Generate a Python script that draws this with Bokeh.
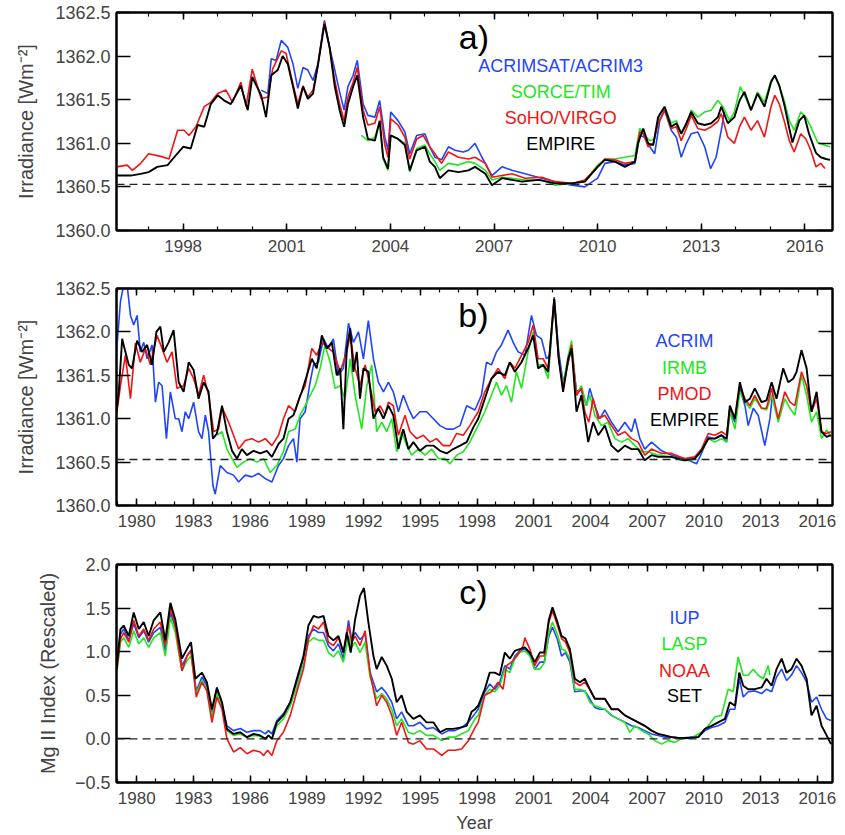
from bokeh.plotting import figure
from bokeh.models import Range1d, FixedTicker, LinearAxis, Span, Label, PrintfTickFormatter, CustomJSTickFormatter
from bokeh.layouts import column
from bokeh.embed import file_html
from bokeh.resources import INLINE

# ---------------- tick labels ----------------
xa_major = [1998, 2001, 2004, 2007, 2010, 2013, 2016]
xa_minor = list(range(1996, 2018))
xbc_major = [1980, 1983, 1986, 1989, 1992, 1995, 1998, 2001, 2004, 2007, 2010, 2013, 2016]
xbc_minor = list(range(1979, 2018))
yab_major = [1360.0, 1360.5, 1361.0, 1361.5, 1362.0, 1362.5]
yc_major = [-0.5, 0.0, 0.5, 1.0, 1.5, 2.0]
tsi_ref = 1360.53
mg_ref = 0.0

# ---------------- panel a ----------------
a_acrim_t = [2000.26,2000.45,2000.55,2000.69,2000.84,2001.03,2001.18,2001.32,2001.47,2001.61,2001.76,2001.90,2002.09,2002.24,2002.39,2002.53,2002.66,2002.77,2002.92,2003.04,2003.21,2003.35,2003.55,2003.69,2003.84,2003.93,2004.01,2004.22,2004.42,2004.56,2004.76,2005.0,2005.14,2005.29,2005.48,2005.68,2005.87,2006.11,2006.26,2006.45,
             2006.65,2006.94,2007.23,2007.52,2007.90,2008.38,2008.77,2009.25,2009.63,2010.0,2010.21,2010.5,2010.79,2011.08,2011.22,2011.37,2011.51,2011.65,2011.80,2011.94,2012.13,2012.28,2012.42,2012.57,2012.71,2012.90,2013.10,2013.27,2013.43,2013.58,2013.67]
a_acrim_v = [1361.61,1361.57,1361.97,1361.95,1362.18,1362.10,1361.91,1361.63,1361.87,1361.84,1361.72,1361.91,1362.41,1362.10,1361.84,1361.59,1361.38,1361.65,1361.78,1361.95,1361.45,1361.32,1361.30,1361.49,1361.07,1360.92,1361.36,1361.26,1361.13,1360.88,1361.09,1361.11,1360.96,1360.84,1360.81,1360.96,1360.92,1360.90,1360.92,1361.0,
             1360.84,1360.63,1360.73,1360.69,1360.65,1360.60,1360.56,1360.52,1360.50,1360.60,1360.77,1360.79,1360.75,1360.77,1361.09,1361.07,1360.96,1360.88,1361.26,1361.38,1361.15,1361.07,1360.84,1361.0,1361.11,1361.13,1360.96,1360.71,1360.84,1361.15,1361.36]

a_sorce_t = [2003.16,2003.35,2003.55,2003.69,2003.79,2003.93,2004.01,2004.22,2004.42,2004.56,2004.76,2005.0,2005.14,2005.29,2005.43,2005.68,2005.97,2006.26,2006.45,
             2006.75,2006.94,2007.23,2007.52,2007.90,2008.38,2008.77,2009.25,2009.63,2010.0,2010.21,2010.5,2010.79,2011.08,2011.22,2011.37,2011.51,2011.65,2011.80,2011.94,2012.13,2012.28,2012.42,2012.57,2012.71,2012.90,2013.10,2013.29,2013.48,2013.63,2013.82,2013.96,2014.13,2014.30,2014.44,2014.63,2014.83,2015.02,2015.13,2015.26,2015.40,2015.55,2015.69,2015.88,2016.03,2016.17,2016.37,2016.56,2016.73]
a_sorce_v = [1361.09,1361.03,1361.07,1361.24,1360.82,1360.69,1361.09,1361.05,1361.0,1360.67,1360.94,1360.98,1360.88,1360.79,1360.69,1360.77,1360.75,1360.79,1360.77,
             1360.69,1360.58,1360.61,1360.60,1360.58,1360.58,1360.52,1360.54,1360.56,1360.75,1360.82,1360.82,1360.84,1360.86,1361.17,1361.09,1361.03,1361.05,1361.34,1361.42,1361.23,1361.26,1361.11,1361.21,1361.38,1361.30,1361.36,1361.38,1361.49,1361.42,1361.26,1361.36,1361.65,1361.51,1361.38,1361.59,1361.47,1361.72,1361.78,1361.66,1361.49,1361.26,1361.15,1361.36,1361.30,1361.19,1361.01,1360.98,1360.96]

a_virgo_t = [1996.07,1996.38,1996.53,1996.77,1997.0,1997.35,1997.59,1997.84,1998.03,1998.17,1998.37,1998.61,1998.80,1999.0,1999.24,1999.43,1999.67,1999.82,2000.0,2000.26,2000.45,2000.59,2000.84,2000.98,2001.13,2001.32,2001.47,2001.61,2001.76,2001.90,2002.09,2002.24,2002.39,2002.53,2002.66,2002.77,2002.92,2003.04,2003.21,2003.35,2003.55,2003.69,2003.84,2003.93,2004.01,2004.22,2004.42,2004.56,2004.76,2004.95,2005.14,2005.29,2005.48,2005.68,2005.97,2006.26,2006.45,
             2006.75,2006.94,2007.23,2007.52,2007.90,2008.38,2008.77,2009.25,2009.63,2010.0,2010.21,2010.5,2010.79,2011.08,2011.22,2011.32,2011.46,2011.61,2011.75,2011.94,2012.13,2012.28,2012.42,2012.57,2012.71,2012.90,2013.10,2013.29,2013.48,2013.58,2013.77,2013.96,2014.11,2014.25,2014.44,2014.63,2014.83,2015.02,2015.13,2015.26,2015.40,2015.55,2015.69,2015.88,2016.03,2016.17,2016.32,2016.46,2016.58]
a_virgo_v = [1360.73,1360.75,1360.69,1360.77,1360.88,1360.85,1360.82,1361.15,1361.15,1361.09,1361.19,1361.42,1361.47,1361.57,1361.61,1361.47,1361.70,1361.42,1361.85,1361.51,1361.53,1361.85,1362.06,1362.03,1361.76,1361.45,1361.66,1361.53,1361.61,1361.89,1362.39,1362.10,1361.72,1361.45,1361.26,1361.53,1361.70,1361.87,1361.38,1361.21,1361.23,1361.42,1360.98,1360.84,1361.28,1361.21,1361.07,1360.82,1361.05,1361.09,1360.96,1360.88,1360.77,1360.90,1360.84,1360.82,1360.84,
             1360.77,1360.61,1360.63,1360.65,1360.60,1360.61,1360.56,1360.54,1360.58,1360.73,1360.82,1360.81,1360.77,1360.79,1361.13,1361.11,1360.96,1361.0,1361.23,1361.38,1361.17,1361.19,1361.03,1361.17,1361.32,1361.17,1361.15,1361.19,1361.25,1361.34,1361.07,1361.0,1361.19,1361.30,1361.15,1361.26,1361.07,1361.42,1361.55,1361.45,1361.26,1361.03,1360.90,1361.11,1361.05,1360.92,1360.73,1360.77,1360.71]

a_empire_t = [1996.07,1996.48,1996.77,1997.0,1997.25,1997.55,1997.74,1998.0,1998.22,1998.42,1998.61,1998.80,1999.0,1999.19,1999.38,1999.67,1999.87,2000.0,2000.26,2000.40,2000.55,2000.74,2000.88,2001.03,2001.18,2001.32,2001.47,2001.61,2001.76,2001.90,2002.09,2002.24,2002.39,2002.53,2002.66,2002.77,2002.92,2003.04,2003.21,2003.35,2003.55,2003.69,2003.79,2003.93,2004.01,2004.22,2004.42,2004.56,2004.76,2005.0,2005.14,2005.29,2005.43,2005.68,2005.97,2006.26,2006.45,
              2006.75,2006.94,2007.23,2007.52,2007.81,2008.29,2008.77,2009.25,2009.63,2010.0,2010.21,2010.5,2010.79,2011.08,2011.17,2011.32,2011.46,2011.61,2011.75,2011.94,2012.13,2012.28,2012.42,2012.57,2012.71,2012.90,2013.10,2013.29,2013.48,2013.58,2013.77,2013.96,2014.11,2014.25,2014.44,2014.63,2014.83,2015.02,2015.13,2015.26,2015.40,2015.55,2015.64,2015.84,2015.98,2016.12,2016.32,2016.46,2016.61,2016.73]
a_empire_v = [1360.63,1360.63,1360.65,1360.67,1360.73,1360.75,1360.84,1360.96,1360.94,1361.21,1361.19,1361.45,1361.55,1361.49,1361.45,1361.66,1361.38,1361.76,1361.55,1361.30,1361.78,1361.84,1362.0,1361.91,1361.65,1361.40,1361.65,1361.51,1361.57,1361.89,1362.37,1362.10,1361.65,1361.38,1361.19,1361.45,1361.65,1361.78,1361.30,1361.05,1361.03,1361.26,1360.84,1360.71,1361.09,1361.05,1360.98,1360.69,1360.92,1360.96,1360.79,1360.73,1360.60,1360.69,1360.67,1360.69,1360.73,
              1360.65,1360.52,1360.60,1360.58,1360.56,1360.58,1360.54,1360.54,1360.56,1360.73,1360.81,1360.79,1360.73,1360.79,1361.0,1361.17,1361.0,1360.98,1361.30,1361.42,1361.19,1361.23,1361.11,1361.23,1361.36,1361.23,1361.21,1361.23,1361.30,1361.42,1361.23,1361.30,1361.49,1361.59,1361.38,1361.57,1361.42,1361.70,1361.78,1361.66,1361.45,1361.17,1361.01,1361.26,1361.32,1361.11,1360.89,1360.84,1360.82,1360.81]

# ---------------- panel b ----------------
b_acrim_t = [1978.93,1979.14,1979.31,1979.49,1979.67,1979.84,1980.02,1980.19,1980.37,1980.55,1980.81,1980.99,1981.16,1981.34,1981.57,1981.78,1982.04,1982.22,1982.39,1982.57,1982.75,1983.01,1983.27,1983.45,1983.63,1983.80,1984.03,1984.15,1984.42,1984.77,1985.12,1985.39,1985.74,1986.09,1986.44,1986.80,1987.15,1987.50,1987.76,1988.03,1988.29,1988.47,1988.64,1988.91,1989.17,1989.35,1989.61,1989.88,1990.14,1990.40,1990.67,1990.93,1991.20,1991.46,1991.73,1991.99,1992.25,1992.52,1992.78,1993.05,1993.31,1993.57,1993.84,1994.10,1994.37,1994.63,1994.98,1995.33,1995.69,1996.04,1996.39,1996.74,1997.10,1997.45,1997.89,
             1998.23,1998.50,1998.76,1999.03,1999.29,1999.64,1999.91,2000.17,2000.53,2000.88,2001.14,2001.41,2001.67,2001.85,2002.08,2002.32,2002.55,2002.82,2003.0,2003.26,2003.52,2003.79,2003.96,2004.23,2004.49,2004.76,2005.11,2005.46,2005.82,2006.17,2006.35,2006.61,2006.87,2007.23,2007.76,2008.29,2008.99,2009.61,2009.87,2010.23,2010.58,2010.93,2011.20,2011.37,2011.64,2011.90,2012.17,2012.34,2012.61,2012.87,2013.22,2013.49,2013.66]
b_acrim_v = [1361.77,1362.35,1362.54,1362.54,1362.19,1362.08,1362.19,1361.77,1361.88,1361.69,1361.85,1361.19,1361.42,1361.38,1360.77,1361.31,1361.0,1361.0,1360.85,1361.08,1361.0,1361.19,1360.85,1360.77,1361.04,1360.85,1360.23,1360.13,1360.46,1360.38,1360.35,1360.27,1360.35,1360.33,1360.37,1360.31,1360.27,1360.46,1360.54,1360.69,1360.77,1360.50,1361.0,1361.08,1361.42,1361.62,1361.65,1361.92,1361.81,1361.92,1361.50,1361.58,1362.10,1361.88,1362.0,1361.69,1362.13,1361.69,1361.42,1361.31,1361.42,1361.31,1361.08,1361.27,1361.12,1361.0,1361.08,1361.08,1361.0,1360.92,1360.88,1360.88,1360.92,1361.15,1361.10,
             1361.27,1361.65,1361.62,1361.77,1361.85,1362.02,1361.88,1361.77,1361.73,1362.19,1361.96,1361.92,1361.69,1361.73,1362.40,1361.77,1361.42,1361.65,1361.81,1361.31,1361.35,1361.15,1361.35,1361.15,1361.0,1361.10,1360.96,1360.85,1360.96,1360.85,1361.0,1360.77,1360.65,1360.73,1360.63,1360.58,1360.54,1360.48,1360.60,1360.79,1360.77,1360.81,1360.73,1361.08,1360.96,1361.35,1361.15,1360.92,1361.12,1361.04,1360.69,1361.0,1361.35]

b_irmb_t = [1984.24,1984.51,1984.77,1985.04,1985.30,1985.65,1986.0,1986.36,1986.71,1987.06,1987.41,1987.76,1988.03,1988.38,1988.64,1988.91,1989.17,1989.44,1989.70,1989.96,1990.23,1990.49,1990.76,1991.02,1991.29,1991.55,1991.90,1992.17,1992.43,1992.69,1992.96,1993.22,1993.49,1993.75,1994.01,1994.28,1994.54,1994.89,1995.25,1995.60,1995.95,1996.30,1996.57,1996.92,1997.27,1997.62,1997.89,
            1998.06,1998.41,1998.76,1999.03,1999.29,1999.56,1999.82,2000.08,2000.35,2000.70,2000.97,2001.23,2001.50,2001.76,2002.08,2002.32,2002.55,2002.82,2003.0,2003.26,2003.52,2003.79,2003.96,2004.23,2004.58,2004.93,2005.29,2005.64,2005.99,2006.35,2006.70,2007.05,2007.58,2008.29,2008.81,2009.34,2009.87,2010.23,2010.58,2010.93,2011.20,2011.37,2011.64,2011.90,2012.17,2012.43,2012.69,2013.05,2013.31,2013.58,2013.93,2014.28,2014.55,2014.81,2015.16,2015.43,2015.69,2015.96,2016.22,2016.49,2016.72]
b_irmb_v = [1360.81,1360.85,1360.65,1360.54,1360.44,1360.50,1360.54,1360.50,1360.54,1360.38,1360.46,1360.62,1360.85,1360.88,1361.04,1361.15,1361.27,1361.38,1361.58,1361.85,1361.65,1361.35,1361.38,1361.23,1361.69,1361.27,1360.88,1361.38,1361.62,1360.85,1360.96,1360.85,1361.0,1360.62,1360.85,1360.69,1360.58,1360.65,1360.58,1360.65,1360.54,1360.54,1360.48,1360.58,1360.62,1360.73,1360.85,
            1360.92,1361.08,1361.27,1361.42,1361.27,1361.38,1361.19,1361.54,1361.35,1361.77,1362.0,1361.62,1361.62,1361.46,1362.35,1361.69,1361.38,1361.73,1361.90,1361.27,1361.38,1361.15,1361.27,1361.04,1360.92,1360.96,1360.77,1360.73,1360.77,1360.69,1360.62,1360.62,1360.58,1360.56,1360.52,1360.52,1360.62,1360.77,1360.73,1360.77,1360.73,1361.08,1360.88,1361.31,1361.19,1361.12,1361.23,1361.12,1361.10,1361.27,1360.96,1361.23,1361.12,1361.04,1361.50,1361.27,1360.96,1361.08,1360.77,1360.87,1360.79]

b_pmod_t = [1978.93,1979.14,1979.40,1979.67,1979.93,1980.19,1980.46,1980.72,1981.07,1981.34,1981.60,1981.87,1982.13,1982.48,1982.75,1983.01,1983.27,1983.54,1983.80,1984.07,1984.33,1984.51,1984.86,1985.12,1985.39,1985.74,1986.09,1986.44,1986.80,1987.15,1987.50,1987.76,1988.03,1988.38,1988.64,1988.91,1989.26,1989.52,1989.79,1990.14,1990.40,1990.76,1991.11,1991.29,1991.55,1991.81,1992.08,1992.34,1992.61,1992.87,1993.13,1993.31,1993.57,1993.84,1994.19,1994.45,1994.81,1995.16,1995.51,1995.86,1996.21,1996.57,1996.92,1997.27,1997.62,1997.89,
            1998.06,1998.41,1998.76,1999.11,1999.47,1999.73,2000.0,2000.35,2000.70,2000.97,2001.23,2001.50,2001.76,2002.08,2002.32,2002.55,2002.82,2003.0,2003.26,2003.52,2003.70,2003.91,2004.14,2004.41,2004.76,2005.11,2005.46,2005.82,2006.17,2006.52,2006.87,2007.23,2007.76,2008.29,2008.99,2009.52,2009.87,2010.23,2010.58,2010.93,2011.20,2011.37,2011.64,2011.90,2012.17,2012.43,2012.69,2013.05,2013.31,2013.58,2013.93,2014.28,2014.55,2014.81,2015.16,2015.43,2015.69,2015.96,2016.22,2016.49,2016.72]
b_pmod_v = [1361.04,1361.38,1361.73,1361.23,1361.87,1361.65,1361.81,1361.62,1361.96,1361.81,1361.65,1361.77,1361.35,1361.38,1361.58,1361.46,1361.27,1361.50,1361.27,1360.85,1360.88,1361.13,1360.96,1360.81,1360.65,1360.75,1360.77,1360.73,1360.77,1360.69,1360.81,1361.0,1361.15,1361.08,1361.27,1361.38,1361.81,1361.73,1361.88,1361.81,1361.77,1361.54,1361.77,1361.96,1361.58,1361.38,1361.62,1361.38,1361.08,1361.15,1361.04,1361.19,1361.15,1360.81,1361.04,1360.85,1360.77,1360.81,1360.73,1360.77,1360.69,1360.69,1360.83,1360.81,1360.92,1361.02,
            1361.08,1361.31,1361.46,1361.58,1361.46,1361.65,1361.58,1361.73,1361.88,1362.08,1361.69,1361.69,1361.58,1362.38,1361.69,1361.35,1361.65,1361.85,1361.27,1361.35,1361.08,1360.96,1361.23,1361.0,1361.04,1360.92,1360.81,1360.85,1360.77,1360.73,1360.58,1360.65,1360.60,1360.60,1360.54,1360.56,1360.65,1360.83,1360.81,1360.85,1360.81,1361.12,1361.0,1361.38,1361.23,1361.15,1361.27,1361.12,1361.12,1361.35,1361.0,1361.31,1361.19,1361.15,1361.54,1361.38,1361.08,1361.23,1360.85,1360.83,1360.85]

b_empire_t = [1978.93,1979.05,1979.23,1979.40,1979.58,1979.75,1980.02,1980.28,1980.55,1980.81,1981.04,1981.25,1981.43,1981.69,1981.95,1982.22,1982.48,1982.75,1983.01,1983.27,1983.54,1983.80,1984.03,1984.24,1984.51,1984.77,1985.04,1985.30,1985.56,1985.83,1986.18,1986.53,1986.88,1987.15,1987.50,1987.76,1988.03,1988.29,1988.56,1988.73,1989.0,1989.26,1989.52,1989.79,1990.05,1990.32,1990.58,1990.76,1990.93,1991.11,1991.29,1991.46,1991.64,1991.81,1991.99,1992.25,1992.52,1992.78,1993.05,1993.31,1993.57,1993.84,1994.10,1994.37,1994.63,1994.98,1995.33,1995.69,1996.04,1996.39,1996.74,1997.10,1997.45,1997.80,
              1998.06,1998.41,1998.76,1999.11,1999.47,1999.73,2000.0,2000.35,2000.70,2000.97,2001.23,2001.50,2001.76,2002.08,2002.32,2002.55,2002.82,2003.0,2003.26,2003.52,2003.70,2003.88,2004.14,2004.41,2004.76,2005.11,2005.46,2005.82,2006.17,2006.52,2006.87,2007.23,2007.58,2008.29,2008.99,2009.52,2009.87,2010.23,2010.58,2010.93,2011.20,2011.37,2011.64,2011.90,2012.17,2012.43,2012.69,2013.05,2013.31,2013.58,2013.84,2014.19,2014.46,2014.72,2014.90,2015.16,2015.43,2015.69,2015.96,2016.22,2016.49,2016.72]
b_empire_v = [1361.08,1361.31,1361.92,1361.77,1361.62,1361.58,1361.90,1361.77,1361.85,1361.62,1362.0,1362.06,1361.77,1361.88,1362.02,1361.42,1361.31,1361.65,1361.56,1361.23,1361.42,1361.31,1360.77,1360.83,1361.15,1360.85,1360.63,1360.54,1360.65,1360.58,1360.63,1360.60,1360.63,1360.56,1360.71,1360.77,1361.0,1361.04,1361.21,1361.31,1361.50,1361.69,1361.58,1361.96,1361.81,1361.88,1361.50,1361.58,1360.88,1361.81,1362.04,1361.54,1361.77,1361.23,1361.58,1361.54,1361.0,1361.12,1361.0,1361.15,1361.04,1360.65,1360.88,1360.65,1360.73,1360.63,1360.69,1360.69,1360.63,1360.60,1360.65,1360.69,1360.73,1360.90,
              1361.0,1361.23,1361.46,1361.54,1361.50,1361.65,1361.54,1361.65,1361.81,1361.96,1361.58,1361.62,1361.54,1362.38,1361.69,1361.31,1361.69,1361.81,1361.08,1361.27,1361.0,1360.73,1360.96,1360.81,1360.92,1360.69,1360.62,1360.69,1360.65,1360.65,1360.52,1360.58,1360.56,1360.56,1360.52,1360.54,1360.63,1360.77,1360.77,1360.81,1360.77,1361.15,1361.0,1361.42,1361.19,1361.23,1361.35,1361.19,1361.21,1361.42,1361.23,1361.58,1361.42,1361.46,1361.54,1361.79,1361.58,1361.08,1361.31,1360.85,1360.79,1360.81]

# ---------------- panel c ----------------
c_iup_t = [1978.93,1979.14,1979.31,1979.58,1979.84,1980.11,1980.37,1980.63,1980.90,1981.25,1981.51,1981.78,1982.04,1982.39,1982.66,1982.87,1983.15,1983.45,1983.71,1983.98,1984.24,1984.51,1984.77,1985.12,1985.48,1985.83,1986.18,1986.53,1986.80,1986.97,1987.15,1987.41,1987.76,1988.12,1988.47,1988.82,1989.08,1989.35,1989.61,1989.88,1990.14,1990.40,1990.67,1990.93,1991.20,1991.37,1991.55,1991.81,1992.08,1992.34,1992.69,1992.96,1993.22,1993.49,1993.75,1994.01,1994.37,1994.63,1994.98,1995.33,1995.69,1996.13,1996.48,1996.83,1997.18,1997.54,1997.89,
           1998.06,1998.41,1998.67,1998.94,1999.20,1999.47,1999.73,2000.0,2000.26,2000.53,2000.79,2001.05,2001.32,2001.55,2001.80,2001.99,2002.25,2002.47,2002.68,2002.91,2003.17,2003.44,2003.70,2003.96,2004.23,2004.49,2004.76,2005.11,2005.46,2005.82,2006.17,2006.52,2006.87,2007.23,2007.58,2007.93,2008.29,2008.81,2009.34,2009.70,2010.05,2010.40,2010.75,2011.11,2011.37,2011.64,2011.87,2012.08,2012.34,2012.69,2013.05,2013.31,2013.58,2013.84,2014.11,2014.37,2014.63,2014.90,2015.16,2015.43,2015.69,2015.96,2016.22,2016.49,2016.72]
c_iup_v = [0.80,1.20,1.26,1.13,1.32,1.16,1.24,1.11,1.22,1.28,1.01,1.45,1.28,0.84,0.95,1.02,0.55,0.71,0.61,0.29,0.55,0.40,0.15,0.095,0.12,0.076,0.095,0.095,0.057,0.095,0.057,0.21,0.29,0.42,0.65,0.92,1.18,1.26,1.22,1.22,1.07,1.01,1.09,0.92,1.36,1.14,1.22,1.14,1.20,0.76,0.54,0.59,0.52,0.42,0.23,0.31,0.15,0.15,0.19,0.115,0.13,0.057,0.095,0.095,0.13,0.19,0.29,
           0.34,0.54,0.63,0.57,0.65,0.84,0.80,0.95,1.01,1.03,0.97,0.80,0.88,0.88,1.18,1.28,1.14,0.95,0.99,0.88,0.54,0.55,0.55,0.46,0.36,0.34,0.34,0.27,0.23,0.19,0.15,0.13,0.095,0.057,0.04,0.02,0.02,0.01,0.02,0.02,0.095,0.13,0.15,0.19,0.34,0.34,0.69,0.48,0.54,0.55,0.52,0.57,0.54,0.71,0.80,0.67,0.73,0.84,0.76,0.65,0.42,0.48,0.34,0.23,0.21]

c_lasp_t = [1978.93,1979.14,1979.31,1979.58,1979.84,1980.11,1980.37,1980.63,1980.90,1981.25,1981.51,1981.78,1982.04,1982.39,1982.66,1982.87,1983.15,1983.45,1983.71,1983.98,1984.24,1984.51,1984.77,1985.12,1985.48,1985.83,1986.18,1986.53,1986.80,1986.97,1987.15,1987.41,1987.76,1988.12,1988.47,1988.82,1989.08,1989.35,1989.61,1989.88,1990.14,1990.40,1990.67,1990.93,1991.20,1991.37,1991.55,1991.81,1992.08,1992.34,1992.69,1992.96,1993.22,1993.49,1993.75,1994.01,1994.37,1994.63,1994.98,1995.33,1995.69,1996.13,1996.48,1996.83,1997.18,1997.54,1997.89,
            1998.06,1998.41,1998.67,1998.94,1999.20,1999.47,1999.73,2000.0,2000.26,2000.53,2000.79,2001.05,2001.32,2001.58,2001.80,2001.99,2002.25,2002.47,2002.68,2002.91,2003.17,2003.44,2003.70,2003.96,2004.23,2004.49,2004.76,2005.11,2005.46,2005.82,2006.08,2006.35,2006.70,2007.05,2007.40,2007.76,2008.11,2008.46,2008.81,2009.34,2009.87,2010.23,2010.58,2010.93,2011.28,2011.55,2011.81,2012.08,2012.34,2012.61,2012.87,2013.14,2013.40,2013.49]
c_lasp_v = [0.73,1.11,1.16,1.05,1.24,1.09,1.16,1.05,1.16,1.22,0.95,1.39,1.22,0.78,0.90,0.95,0.52,0.67,0.57,0.25,0.52,0.38,0.095,0.04,0.057,0.02,0.04,0.03,0.0,0.04,0.0,0.15,0.23,0.38,0.59,0.86,1.11,1.16,1.13,1.13,0.99,0.94,1.01,0.88,1.18,1.05,1.11,0.99,1.11,0.71,0.46,0.52,0.46,0.34,0.15,0.23,0.076,0.057,0.095,0.04,0.04,-0.02,0.02,0.02,0.057,0.095,0.23,
            0.27,0.50,0.57,0.54,0.61,0.80,0.76,0.92,0.99,1.01,0.95,0.80,0.80,0.88,1.22,1.34,1.20,1.03,1.01,0.92,0.57,0.57,0.55,0.42,0.38,0.36,0.34,0.27,0.23,0.19,0.076,0.15,0.095,0.057,-0.02,-0.06,-0.02,-0.04,0.0,0.01,0.076,0.15,0.25,0.27,0.57,0.54,0.94,0.73,0.73,0.80,0.73,0.69,0.84,0.73]

c_noaa_t = [1978.93,1979.14,1979.31,1979.58,1979.84,1980.11,1980.37,1980.63,1980.90,1981.25,1981.51,1981.78,1982.04,1982.39,1982.66,1982.87,1983.15,1983.45,1983.71,1983.98,1984.24,1984.51,1984.77,1985.12,1985.48,1985.83,1986.18,1986.53,1986.71,1986.92,1987.15,1987.41,1987.76,1988.12,1988.47,1988.82,1989.08,1989.35,1989.61,1989.88,1990.14,1990.40,1990.67,1990.93,1991.20,1991.37,1991.55,1991.81,1992.08,1992.34,1992.69,1992.96,1993.22,1993.49,1993.75,1994.01,1994.37,1994.63,1994.98,1995.33,1995.69,1996.13,1996.48,1996.83,1997.18,1997.54,1997.89,
            1998.06,1998.41,1998.76,1999.11,1999.38,1999.56,1999.82,2000.17,2000.44,2000.53,2000.79,2001.05,2001.32,2001.55,2001.80,2001.99,2002.25,2002.47,2002.68,2002.91,2003.17,2003.44,2003.70,2003.96,2004.23,2004.49,2004.76,2005.11,2005.46,2005.82,2006.17,2006.52,2006.87,2007.23,2007.58,2007.93,2008.29,2008.64]
c_noaa_v = [0.76,1.14,1.22,1.11,1.36,1.18,1.26,1.13,1.26,1.34,1.07,1.51,1.30,0.78,0.95,1.01,0.48,0.65,0.55,0.19,0.48,0.34,0.0,-0.15,-0.10,-0.17,-0.13,-0.15,-0.19,-0.13,-0.19,-0.02,0.076,0.27,0.54,0.80,1.14,1.30,1.26,1.34,1.11,1.07,1.16,0.99,1.30,1.11,1.18,1.07,1.24,0.76,0.38,0.50,0.42,0.27,0.04,0.19,-0.04,-0.06,-0.02,-0.115,-0.115,-0.19,-0.13,-0.13,-0.115,-0.02,0.13,
            0.19,0.50,0.54,0.65,0.57,0.84,0.88,0.97,1.07,1.16,1.03,0.84,0.95,0.95,1.34,1.47,1.30,1.15,1.11,0.99,0.65,0.61,0.65,0.57,0.46,0.46,0.46,0.34,0.34,0.27,0.23,0.19,0.15,0.095,0.057,0.04,0.02,0.01]

c_set_t = [1978.93,1979.14,1979.31,1979.58,1979.84,1980.11,1980.37,1980.63,1980.90,1981.25,1981.51,1981.78,1982.04,1982.39,1982.66,1982.87,1983.10,1983.45,1983.71,1983.98,1984.24,1984.51,1984.77,1985.12,1985.48,1985.83,1986.18,1986.53,1986.80,1986.97,1987.15,1987.41,1987.76,1988.12,1988.47,1988.82,1989.08,1989.35,1989.61,1989.88,1990.14,1990.40,1990.67,1990.93,1991.11,1991.32,1991.55,1991.81,1992.02,1992.25,1992.52,1992.69,1992.96,1993.22,1993.49,1993.75,1994.01,1994.28,1994.63,1994.98,1995.33,1995.69,1996.04,1996.39,1996.74,1997.10,1997.45,1997.71,1997.89,
           1998.06,1998.41,1998.67,1998.94,1999.20,1999.47,1999.73,2000.0,2000.26,2000.53,2000.79,2001.05,2001.32,2001.55,2001.80,2001.99,2002.25,2002.47,2002.68,2002.91,2003.17,2003.44,2003.70,2003.96,2004.23,2004.49,2004.76,2005.11,2005.46,2005.82,2006.17,2006.52,2006.87,2007.23,2007.58,2007.93,2008.29,2008.64,2009.17,2009.70,2010.05,2010.40,2010.75,2011.11,2011.37,2011.64,2011.87,2012.08,2012.34,2012.69,2013.05,2013.31,2013.58,2013.84,2014.11,2014.37,2014.63,2014.90,2015.16,2015.43,2015.69,2015.96,2016.22,2016.49,2016.72]
c_set_v = [0.80,1.26,1.30,1.18,1.45,1.26,1.34,1.18,1.36,1.45,1.13,1.56,1.37,0.92,1.03,1.11,0.69,0.76,0.65,0.34,0.59,0.42,0.115,0.057,0.076,0.02,0.057,0.04,0.0,0.04,0.0,0.19,0.27,0.42,0.69,0.95,1.30,1.41,1.39,1.41,1.18,1.13,1.18,0.99,1.22,0.99,1.37,1.64,1.73,1.34,0.95,0.80,0.94,0.84,0.69,0.42,0.50,0.31,0.23,0.27,0.19,0.19,0.076,0.115,0.115,0.13,0.15,0.31,0.34,
           0.38,0.57,0.76,0.76,0.73,0.99,0.92,1.01,1.03,1.05,0.99,0.88,0.99,0.99,1.37,1.51,1.34,1.18,1.15,1.03,0.69,0.65,0.69,0.57,0.46,0.46,0.46,0.34,0.34,0.27,0.23,0.19,0.15,0.095,0.057,0.04,0.02,0.01,0.01,0.02,0.115,0.15,0.19,0.23,0.42,0.38,0.76,0.61,0.57,0.57,0.59,0.69,0.61,0.80,0.92,0.76,0.80,0.92,0.84,0.69,0.27,0.38,0.15,0.04,-0.06]

# ---------------- styling ----------------
FONT = "Liberation Sans"
BLUE = "#1f45fc"
GREEN = "#22e622"
RED = "#f21414"
BLACK = "#000000"


def style_x(ax, labels=True):
    ax.major_tick_in = 7
    ax.major_tick_out = 0
    ax.minor_tick_in = 4
    ax.minor_tick_out = 0
    ax.major_tick_line_width = 1.5
    ax.minor_tick_line_width = 1.2
    ax.axis_line_width = 2
    ax.major_label_text_font = FONT
    if labels:
        ax.major_label_text_font_size = "17px"
        ax.major_label_standoff = 9
    else:
        ax.major_label_text_font_size = "1px"
        ax.major_label_text_color = None
        ax.major_label_standoff = 0


def style_y(ax, labels=True):
    ax.major_tick_in = 14
    ax.major_tick_out = 0
    ax.minor_tick_line_color = None
    ax.major_tick_line_width = 1.5
    ax.axis_line_width = 2
    ax.major_label_text_font = FONT
    if labels:
        ax.major_label_text_font_size = "18px"
        ax.major_label_standoff = 6
    else:
        ax.major_label_text_font_size = "1px"
        ax.major_label_text_color = None
        ax.major_label_standoff = 0


def panel(xr, yr, xmaj, xmin, ymaj, fh, bt, bb, ylabel, ylabel_standoff, yfmt, xlabel=None):
    p = figure(frame_width=716, frame_height=fh, x_range=Range1d(*xr), y_range=Range1d(*yr),
               output_backend="svg", toolbar_location=None, min_border_left=116,
               min_border_right=6, min_border_top=bt, min_border_bottom=bb)
    p.background_fill_color = "white"
    p.border_fill_color = "white"
    p.outline_line_color = "black"
    p.outline_line_width = 2
    p.xgrid.visible = False
    p.ygrid.visible = False
    xt = FixedTicker(ticks=xmaj, minor_ticks=xmin)
    yt = FixedTicker(ticks=ymaj)
    p.xaxis.ticker = xt
    p.yaxis.ticker = yt
    style_x(p.xaxis[0])
    style_y(p.yaxis[0])
    p.yaxis.formatter = yfmt
    p.yaxis.axis_label = ylabel
    p.yaxis.axis_label_text_font = FONT
    p.yaxis.axis_label_text_font_size = "20px"
    p.yaxis.axis_label_text_font_style = "normal"
    p.yaxis.axis_label_standoff = ylabel_standoff
    if xlabel:
        p.xaxis.axis_label = xlabel
        p.xaxis.axis_label_text_font = FONT
        p.xaxis.axis_label_text_font_size = "18px"
        p.xaxis.axis_label_text_font_style = "normal"
        p.xaxis.axis_label_standoff = 6
    top = LinearAxis(ticker=xt)
    style_x(top, labels=False)
    p.add_layout(top, "above")
    right = LinearAxis(ticker=yt)
    style_y(right, labels=False)
    p.add_layout(right, "right")
    return p


def add_text(p, x, y, text, color, size="18px"):
    p.add_layout(Label(x=x, y=y, text=text, text_color=color, text_font=FONT,
                       text_font_size=size, text_align="center", text_baseline="middle"))


fmt1 = PrintfTickFormatter(format="%.1f")
fmtc = CustomJSTickFormatter(code="return tick.toFixed(1).replace('-', '\u2212');")

# panel a
pa = panel((1996.07, 2016.8), (1360.0, 1362.5), xa_major, xa_minor, yab_major, 218, 12, 48,
           "Irradiance [Wm\u207b\u00b2]", 15, fmt1)
pa.line(a_acrim_t, a_acrim_v, line_color=BLUE, line_width=1.6)
pa.line(a_sorce_t, a_sorce_v, line_color=GREEN, line_width=1.6)
pa.line(a_virgo_t, a_virgo_v, line_color=RED, line_width=1.6)
pa.line(a_empire_t, a_empire_v, line_color=BLACK, line_width=1.9)
pa.add_layout(Span(location=tsi_ref, dimension="width", line_color="#222222", line_width=1.3, line_dash="8 5"))
add_text(pa, 2006.42, 1362.22, "a)", BLACK, "34px")
add_text(pa, 2008.93, 1361.89, "ACRIMSAT/ACRIM3", BLUE)
add_text(pa, 2008.93, 1361.59, "SORCE/TIM", GREEN)
add_text(pa, 2008.93, 1361.29, "SoHO/VIRGO", RED)
add_text(pa, 2008.93, 1360.99, "EMPIRE", BLACK)

# panel b
pb = panel((1978.93, 2016.8), (1360.0, 1362.5), xbc_major, xbc_minor, yab_major, 217, 10, 49,
           "Irradiance [Wm\u207b\u00b2]", 15, fmt1)
pb.line(b_acrim_t, b_acrim_v, line_color=BLUE, line_width=1.6)
pb.line(b_irmb_t, b_irmb_v, line_color=GREEN, line_width=1.6)
pb.line(b_pmod_t, b_pmod_v, line_color=RED, line_width=1.6)
pb.line(b_empire_t, b_empire_v, line_color=BLACK, line_width=1.9)
pb.add_layout(Span(location=tsi_ref, dimension="width", line_color="#222222", line_width=1.3, line_dash="8 5"))
add_text(pb, 1997.81, 1362.19, "b)", BLACK, "34px")
add_text(pb, 2008.97, 1361.89, "ACRIM", BLUE)
add_text(pb, 2008.97, 1361.58, "IRMB", GREEN)
add_text(pb, 2008.97, 1361.28, "PMOD", RED)
add_text(pb, 2008.97, 1360.99, "EMPIRE", BLACK)

# panel c
pc = panel((1978.93, 2016.8), (-0.5, 2.0), xbc_major, xbc_minor, yc_major, 218, 10, 53,
           "Mg II Index (Rescaled)", 13, fmtc, xlabel="Year")
pc.line(c_iup_t, c_iup_v, line_color=BLUE, line_width=1.6)
pc.line(c_lasp_t, c_lasp_v, line_color=GREEN, line_width=1.6)
pc.line(c_noaa_t, c_noaa_v, line_color=RED, line_width=1.6)
pc.line(c_set_t, c_set_v, line_color=BLACK, line_width=1.9)
pc.add_layout(Span(location=mg_ref, dimension="width", line_color="#222222", line_width=1.3, line_dash="8 5"))
add_text(pc, 1997.81, 1.68, "c)", BLACK, "34px")
add_text(pc, 2008.97, 1.39, "IUP", BLUE)
add_text(pc, 2008.97, 1.09, "LASP", GREEN)
add_text(pc, 2008.97, 0.78, "NOAA", RED)
add_text(pc, 2008.97, 0.49, "SET", BLACK)

layout = column(pa, pb, pc)
open("out.html", "w").write(file_html(layout, INLINE))
